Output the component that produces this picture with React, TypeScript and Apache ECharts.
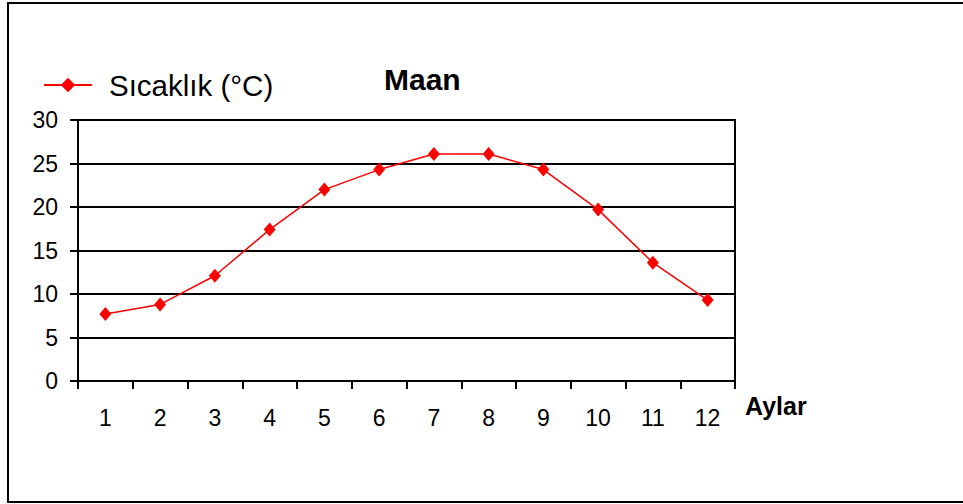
import React, { useEffect, useRef } from "react";
import * as echarts from "echarts";

const months: string[] = ["1", "2", "3", "4", "5", "6", "7", "8", "9", "10", "11", "12"];
const temperatures: number[] = [7.7, 8.8, 12.1, 17.4, 22.0, 24.3, 26.1, 26.1, 24.3, 19.7, 13.6, 9.3];
const seriesName = "Sıcaklık (°C)";
const chartTitle = "Maan";
const xAxisName = "Aylar";
const yMin = 0;
const yMax = 30;
const yStep = 5;

const FONT = "'Liberation Sans', Arial, Helvetica, sans-serif";

export default function App() {
  const ref = useRef<HTMLDivElement>(null);
  useEffect(() => {
    if (!ref.current) return;
    const chart = echarts.init(ref.current, null, { renderer: "svg" });
    chart.setOption({
      animation: false,
      backgroundColor: "#ffffff",
      textStyle: { fontFamily: FONT, color: "#000" },
      title: {
        text: chartTitle,
        left: 384,
        top: 64,
        padding: 0,
        textStyle: { fontFamily: FONT, fontSize: 30, fontWeight: "bold", color: "#000" },
      },
      legend: {
        left: 43,
        top: 70,
        padding: 0,
        itemWidth: 48,
        itemHeight: 18,
        data: [seriesName],
        textStyle: { fontFamily: FONT, fontSize: 29.5, color: "#000", padding: [0, 0, 0, 12] },
      },
      grid: {
        left: 78,
        top: 120,
        right: 228,
        bottom: 123,
        show: true,
        borderColor: "#000",
        borderWidth: 2,
        containLabel: false,
      },
      xAxis: {
        type: "category",
        data: months,
        boundaryGap: true,
        name: xAxisName,
        nameLocation: "end",
        nameGap: 10,
        nameTextStyle: {
          fontFamily: FONT,
          fontSize: 25,
          fontWeight: "bold",
          color: "#000",
          verticalAlign: "top",
          align: "left",
          padding: [12, 0, 0, 0],
        },
        axisLine: { show: true, lineStyle: { color: "#000", width: 2 } },
        axisTick: { show: true, interval: 0, length: 8, lineStyle: { color: "#000", width: 2 } },
        axisLabel: { interval: 0, margin: 25, fontFamily: FONT, fontSize: 23, color: "#000" },
        splitLine: { show: false },
      },
      yAxis: {
        type: "value",
        min: yMin,
        max: yMax,
        interval: yStep,
        axisLine: { show: true, lineStyle: { color: "#000", width: 2 } },
        axisTick: { show: true, length: 8, lineStyle: { color: "#000", width: 2 } },
        axisLabel: { margin: 20, fontFamily: FONT, fontSize: 23, color: "#000" },
        splitLine: { show: true, lineStyle: { color: "#000", width: 2 } },
      },
      graphic: [
        {
          type: "rect",
          shape: { x: 8, y: 3, width: 970, height: 499 },
          style: { fill: "none", stroke: "#000", lineWidth: 2 },
          silent: true,
          z: 100,
        },
      ],
      series: [
        {
          name: seriesName,
          type: "line",
          data: temperatures,
          symbol: "diamond",
          symbolSize: [12, 14],
          itemStyle: { color: "#ff0000" },
          lineStyle: { color: "#ff0000", width: 1.5 },
          z: 5,
        },
      ],
    });
    return () => chart.dispose();
  }, []);
  return (
    <div
      ref={ref}
      style={{ position: "absolute", left: 0, top: 0, width: 963, height: 504 }}
    />
  );
}
